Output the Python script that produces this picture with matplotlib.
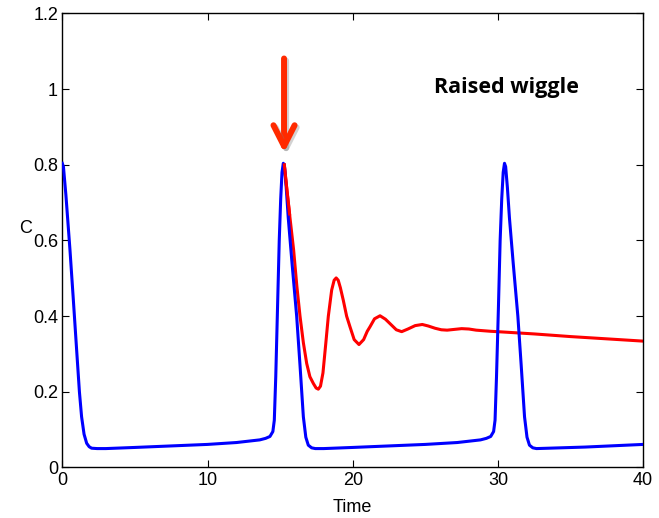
import matplotlib
matplotlib.use('Agg')
import matplotlib.pyplot as plt
import matplotlib.patheffects as pe

# blue trajectory
blue_t = [0.00, 0.08, 0.25, 0.53, 0.75, 0.99, 1.18, 1.33, 1.50, 1.68, 1.85, 2.02, 2.40, 3.0,
          5.0, 7.5, 10.0, 12.0, 13.6, 14.0, 14.3, 14.5, 14.6, 14.7, 14.82, 14.94, 15.04, 15.13,
          15.22, 15.30, 15.42, 15.56, 15.82, 16.14, 16.37, 16.60, 16.77, 16.94, 17.17, 17.42,
          18.0, 20.0, 22.5, 25.0, 27.2, 28.8, 29.2, 29.5, 29.7, 29.8, 29.9, 30.03, 30.15, 30.26,
          30.36, 30.45, 30.53, 30.65, 30.79, 31.05, 31.37, 31.6, 31.83, 32.0, 32.17, 32.4, 32.65,
          33.5, 36.0, 40.0]
blue_c = [0.804, 0.795, 0.72, 0.575, 0.45, 0.31, 0.20, 0.134, 0.088, 0.064, 0.055, 0.051, 0.050, 0.050,
          0.053, 0.057, 0.061, 0.066, 0.073, 0.077, 0.082, 0.095, 0.125, 0.24, 0.42, 0.60, 0.71, 0.78,
          0.804, 0.795, 0.74, 0.66, 0.54, 0.40, 0.27, 0.134, 0.08, 0.059, 0.052, 0.050,
          0.050, 0.053, 0.057, 0.061, 0.066, 0.073, 0.077, 0.082, 0.095, 0.125, 0.24, 0.42, 0.60, 0.71,
          0.78, 0.804, 0.795, 0.74, 0.66, 0.54, 0.40, 0.27, 0.134, 0.08, 0.059, 0.052, 0.050,
          0.051, 0.054, 0.061]

# red trajectory (perturbed, "raised wiggle")
red_t = [15.29, 15.45, 15.65, 15.93, 16.15, 16.37, 16.6, 16.83, 17.05, 17.29, 17.48, 17.63, 17.78,
         17.95, 18.15, 18.32, 18.55, 18.72, 18.86, 19.0, 19.15, 19.35, 19.58, 19.81, 20.1, 20.43,
         20.75, 21.0, 21.19, 21.5, 21.88, 22.25, 22.68, 23.0, 23.37, 23.8, 24.3, 24.79, 25.2, 25.67,
         26.1, 26.5, 27.0, 27.5, 28.0, 28.5, 29.5, 30.4, 32.5, 35.0, 37.5, 40.0]
red_c = [0.800, 0.74, 0.67, 0.575, 0.48, 0.40, 0.33, 0.275, 0.24, 0.222, 0.210, 0.207, 0.215,
         0.25, 0.33, 0.40, 0.469, 0.495, 0.501, 0.495, 0.475, 0.442, 0.40, 0.372, 0.338, 0.325,
         0.338, 0.360, 0.372, 0.393, 0.401, 0.392, 0.376, 0.364, 0.359, 0.366, 0.375, 0.378, 0.374, 0.368,
         0.364, 0.363, 0.365, 0.367, 0.366, 0.363, 0.360, 0.358, 0.353, 0.346, 0.340, 0.334]

x_ticks = [0, 10, 20, 30, 40]
y_ticks = [0, 0.2, 0.4, 0.6, 0.8, 1, 1.2]
y_labels = ['0', '0.2', '0.4', '0.6', '0.8', '1', '1.2']

plt.rcParams['font.family'] = ['Liberation Sans', 'DejaVu Sans']

fig = plt.figure(figsize=(6.59, 5.18), dpi=100)
ax = fig.add_axes([0.0945, 0.0975, 0.8815, 0.8765])

ax.plot(red_t, red_c, color='#ff0000', lw=2.2, zorder=2)
ax.plot(blue_t, blue_c, color='#0000ff', lw=2.2, zorder=3)
ax.plot(red_t[:3], red_c[:3], color='#ff0000', lw=2.2, zorder=4)

ax.set_xlim(0, 40)
ax.set_ylim(0, 1.2)
ax.set_xticks(x_ticks)
ax.set_yticks(y_ticks)
ax.set_yticklabels(y_labels)
ax.tick_params(direction='in', length=5, width=0.8, labelsize=13, top=True, right=True, pad=3)
for s in ax.spines.values():
    s.set_linewidth(1.0)

ax.set_xlabel('Time', fontsize=13, va='center')
ax.xaxis.set_label_coords(0.5, -0.089)
ax.set_ylabel('C', fontsize=13, rotation=0, ha='center', va='center')
ax.yaxis.set_label_coords(-0.064, 0.527)

ax.text(0.764, 0.837, 'Raised wiggle', transform=ax.transAxes, ha='center', va='center',
        fontsize=15.5, fontweight='bold', family=['Open Sans', 'DejaVu Sans'])

ax.annotate('', xy=(15.27, 0.832), xytext=(15.27, 1.081),
            arrowprops=dict(arrowstyle='->,head_length=0.75,head_width=0.38', mutation_scale=20,
                            lw=4.3, color='#ff2a00', shrinkA=0, shrinkB=0,
                            path_effects=[pe.SimpleLineShadow(offset=(1.5, -1.5), shadow_color='gray', alpha=0.35),
                                          pe.Normal()]),
            annotation_clip=False)

fig.savefig('out.png', dpi=100)
